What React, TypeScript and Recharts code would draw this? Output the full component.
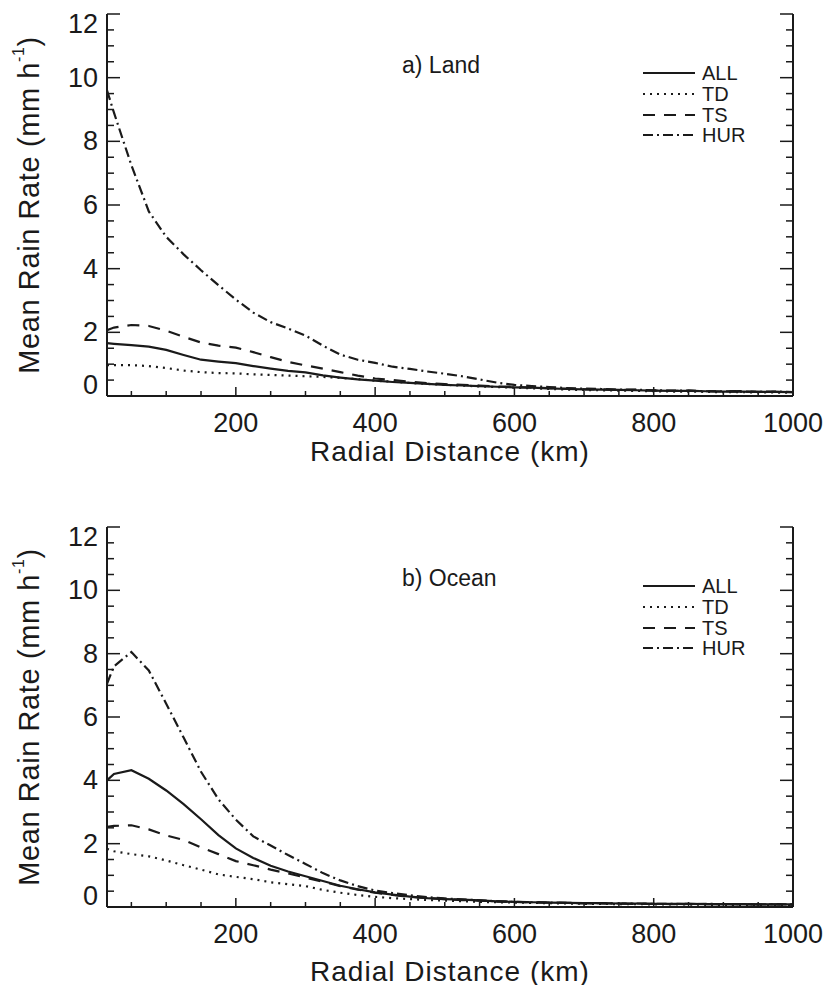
import React from "react";
import { LineChart, Line, XAxis, YAxis, Legend } from "recharts";

// radial distance (km)
const KM = [
  15, 25, 50, 75, 100, 125, 150, 175, 200, 225,
  250, 275, 300, 325, 350, 375, 400, 425, 450, 475,
  500, 525, 550, 575, 600, 625, 650, 675, 700, 725,
  750, 775, 800, 825, 850, 875, 900, 925, 950, 975,
  1000,
];

// a) Land, mean rain rate (mm/h)
const LAND_ALL = [
  1.66, 1.64, 1.6, 1.55, 1.45, 1.29, 1.14, 1.08, 1.03, 0.94,
  0.86, 0.79, 0.74, 0.65, 0.58, 0.52, 0.48, 0.44, 0.41, 0.38,
  0.35, 0.33, 0.31, 0.29, 0.27, 0.26, 0.24, 0.22, 0.21, 0.2,
  0.19, 0.18, 0.17, 0.16, 0.16, 0.15, 0.14, 0.14, 0.13, 0.13,
  0.12,
];
const LAND_TD = [
  0.97, 0.97, 0.97, 0.94, 0.88, 0.8, 0.75, 0.72, 0.71, 0.68,
  0.66, 0.64, 0.62, 0.6, 0.57, 0.53, 0.48, 0.45, 0.41, 0.38,
  0.35, 0.33, 0.3, 0.28, 0.26, 0.24, 0.22, 0.2, 0.19, 0.18,
  0.17, 0.16, 0.15, 0.14, 0.14, 0.13, 0.12, 0.12, 0.11, 0.11,
  0.1,
];
const LAND_TS = [
  2.07, 2.15, 2.23, 2.2, 2.05, 1.86, 1.68, 1.58, 1.52, 1.38,
  1.22, 1.07, 0.96, 0.86, 0.75, 0.64, 0.55, 0.5, 0.45, 0.4,
  0.37, 0.35, 0.33, 0.3, 0.29, 0.26, 0.25, 0.23, 0.21, 0.21,
  0.19, 0.19, 0.17, 0.16, 0.17, 0.15, 0.14, 0.15, 0.13, 0.13,
  0.12,
];
const LAND_HUR = [
  9.6, 8.9, 7.25, 5.8, 5.0, 4.45, 3.95, 3.48, 3.03, 2.62,
  2.32, 2.12, 1.9, 1.58, 1.3, 1.14, 1.04, 0.92, 0.85, 0.77,
  0.7, 0.62, 0.52, 0.42, 0.35, 0.31, 0.28, 0.25, 0.23, 0.22,
  0.2, 0.2, 0.18, 0.17, 0.17, 0.15, 0.15, 0.14, 0.13, 0.14,
  0.12,
];

// b) Ocean
const OCEAN_ALL = [
  4.0, 4.2, 4.32, 4.05, 3.68, 3.25, 2.77, 2.27, 1.85, 1.55,
  1.3, 1.12, 0.97, 0.82, 0.67, 0.56, 0.46, 0.39, 0.33, 0.28,
  0.25, 0.23, 0.21, 0.18, 0.16, 0.15, 0.14, 0.13, 0.12, 0.12,
  0.11, 0.11, 0.1, 0.1, 0.1, 0.09, 0.09, 0.09, 0.08, 0.08,
  0.08,
];
const OCEAN_TD = [
  1.84, 1.76, 1.67, 1.6, 1.47, 1.32, 1.18, 1.03, 0.95, 0.88,
  0.78, 0.72, 0.66, 0.54, 0.45, 0.38, 0.32, 0.28, 0.25, 0.22,
  0.2, 0.18, 0.16, 0.15, 0.14, 0.13, 0.12, 0.11, 0.1, 0.1,
  0.09, 0.09, 0.08, 0.08, 0.08, 0.07, 0.07, 0.07, 0.07, 0.06,
  0.06,
];
const OCEAN_TS = [
  2.53, 2.56, 2.58, 2.45, 2.26, 2.12, 1.88, 1.67, 1.45, 1.32,
  1.18, 1.06, 0.93, 0.8, 0.66, 0.55, 0.45, 0.38, 0.32, 0.28,
  0.25, 0.22, 0.2, 0.18, 0.16, 0.15, 0.14, 0.13, 0.12, 0.11,
  0.11, 0.1, 0.1, 0.09, 0.1, 0.09, 0.09, 0.08, 0.08, 0.08,
  0.07,
];
const OCEAN_HUR = [
  7.05, 7.6, 8.05, 7.47, 6.42, 5.35, 4.27, 3.4, 2.76, 2.23,
  1.94, 1.64, 1.36, 1.07, 0.84, 0.66, 0.52, 0.44, 0.37, 0.31,
  0.27, 0.24, 0.21, 0.18, 0.16, 0.15, 0.14, 0.13, 0.12, 0.12,
  0.11, 0.11, 0.1, 0.1, 0.09, 0.1, 0.09, 0.09, 0.08, 0.09,
  0.08,
];

const X_TICKS = [
  50, 100, 150, 200, 250, 300, 350, 400, 450, 500,
  550, 600, 650, 700, 750, 800, 850, 900, 950, 1000,
];
const X_LABELS = [200, 400, 600, 800, 1000];
const Y_TICKS = [
  0, 0.5, 1, 1.5, 2, 2.5, 3, 3.5, 4, 4.5, 5, 5.5, 6,
  6.5, 7, 7.5, 8, 8.5, 9, 9.5, 10, 10.5, 11, 11.5, 12,
];
const Y_LABELS = [0, 2, 4, 6, 8, 10, 12];

const SERIES = [
  { key: "all", name: "ALL", dash: undefined },
  { key: "td", name: "TD", dash: "2 5" },
  { key: "ts", name: "TS", dash: "12 9" },
  { key: "hur", name: "HUR", dash: "10 4 2 4" },
];

const INK = "#1a1a1a";
const FONT = "'Liberation Sans', Arial, Helvetica, sans-serif";

const toRows = (all, td, ts, hur) =>
  KM.map((km, i) => ({ km, all: all[i], td: td[i], ts: ts[i], hur: hur[i] }));

const landData = toRows(LAND_ALL, LAND_TD, LAND_TS, LAND_HUR);
const oceanData = toRows(OCEAN_ALL, OCEAN_TD, OCEAN_TS, OCEAN_HUR);

function BottomTick({ x, y, payload }: any) {
  const major = X_LABELS.includes(payload.value);
  return (
    <g>
      <line x1={x} y1={y} x2={x} y2={y - (major ? 9 : 5)} stroke={INK} strokeWidth={1.5} />
      {major && (
        <text x={x} y={y + 27} textAnchor="middle" dominantBaseline="central"
          fontSize={27} fontFamily={FONT} fill={INK}>
          {payload.value}
        </text>
      )}
    </g>
  );
}

function TopTick({ x, y, payload }: any) {
  const major = X_LABELS.includes(payload.value);
  return <line x1={x} y1={y} x2={x} y2={y + (major ? 9 : 5)} stroke={INK} strokeWidth={1.5} />;
}

function LeftTick({ x, y, payload }: any) {
  const v = payload.value;
  const major = Y_LABELS.includes(v);
  // end labels are nudged inside the frame
  const shift = v === 0 ? -11 : v === 12 ? 10 : 0;
  return (
    <g>
      <line x1={x} y1={y} x2={x + (major ? 13 : 7)} y2={y} stroke={INK} strokeWidth={1.5} />
      {major && (
        <text x={x - 9} y={y + shift} textAnchor="end" dominantBaseline="central"
          fontSize={27} fontFamily={FONT} fill={INK}>
          {v}
        </text>
      )}
    </g>
  );
}

function RightTick({ x, y, payload }: any) {
  const major = Y_LABELS.includes(payload.value);
  return <line x1={x} y1={y} x2={x - (major ? 13 : 7)} y2={y} stroke={INK} strokeWidth={1.5} />;
}

function XTitle({ viewBox, dy }: any) {
  return (
    <text x={viewBox.x + viewBox.width / 2} y={viewBox.y + dy} textAnchor="middle"
      dominantBaseline="central" fontSize={28} letterSpacing={1} fontFamily={FONT} fill={INK}>
      Radial Distance (km)
    </text>
  );
}

function YTitle({ viewBox }: any) {
  const cx = viewBox.x + 29;
  const cy = viewBox.y + viewBox.height / 2;
  return (
    <text x={cx} y={cy} transform={`rotate(-90, ${cx}, ${cy})`} textAnchor="middle"
      dominantBaseline="central" fontSize={29} letterSpacing={0.6} fontFamily={FONT} fill={INK}>
      Mean Rain Rate (mm h
      <tspan dy={-11} fontSize={16}>-1</tspan>
      <tspan dy={11}>)</tspan>
    </text>
  );
}

function LegendBox({ panel }: any) {
  const rows = [59, 80, 101, 121];
  return (
    <svg width={400} height={140} style={{ overflow: "visible" }}>
      <text x={2} y={59} fontSize={23} fontFamily={FONT} fill={INK}>{panel}</text>
      {SERIES.map((s, i) => (
        <g key={s.key}>
          <line x1={243} x2={295} y1={rows[i]} y2={rows[i]} stroke={INK}
            strokeWidth={2.2} strokeDasharray={s.dash} />
          <text x={302} y={rows[i] + 7} fontSize={20} fontFamily={FONT} fill={INK}>{s.name}</text>
        </g>
      ))}
    </svg>
  );
}

function Panel({ data, panel, height, top, xAxisHeight, titleDy }: any) {
  return (
    <LineChart width={830} height={height} data={data}
      margin={{ top, right: 0, bottom: 0, left: 0 }}>
      <XAxis xAxisId="x" dataKey="km" type="number" domain={[15, 1000]} allowDataOverflow
        ticks={X_TICKS} interval={0} height={xAxisHeight} tickLine={false} tickSize={0}
        tickMargin={0} axisLine={{ stroke: INK, strokeWidth: 2 }} tick={BottomTick}
        label={(p: any) => <XTitle {...p} dy={titleDy} />} />
      <XAxis xAxisId="top" orientation="top" dataKey="km" type="number" domain={[15, 1000]}
        allowDataOverflow ticks={X_TICKS} interval={0} height={0} tickLine={false}
        tickSize={0} tickMargin={0} axisLine={{ stroke: INK, strokeWidth: 2 }} tick={TopTick} />
      <YAxis yAxisId="y" type="number" domain={[0, 12]} allowDataOverflow ticks={Y_TICKS}
        interval={0} width={107} tickLine={false} tickSize={0} tickMargin={0}
        axisLine={{ stroke: INK, strokeWidth: 2 }} tick={LeftTick} label={YTitle} />
      <YAxis yAxisId="right" orientation="right" type="number" domain={[0, 12]}
        allowDataOverflow ticks={Y_TICKS} interval={0} width={37} tickLine={false}
        tickSize={0} tickMargin={0} axisLine={{ stroke: INK, strokeWidth: 2 }} tick={RightTick} />
      <Legend layout="horizontal" verticalAlign="middle" align="center"
        wrapperStyle={{ left: 400, top, width: 400, height: 140 }}
        content={() => <LegendBox panel={panel} />} />
      {SERIES.map((s) => (
        <Line key={s.key} xAxisId="x" yAxisId="y" type="linear" dataKey={s.key} name={s.name}
          stroke={INK} strokeWidth={2.2} strokeDasharray={s.dash} dot={false}
          activeDot={false} isAnimationActive={false} />
      ))}
    </LineChart>
  );
}

export default function App() {
  return (
    <div style={{ position: "absolute", left: 0, top: 0, width: 830, height: 985, background: "#fff" }}>
      <Panel data={landData} panel="a) Land" height={480} top={14} xAxisHeight={84} titleDy={55} />
      <Panel data={oceanData} panel="b) Ocean" height={505} top={47} xAxisHeight={78} titleDy={64} />
    </div>
  );
}
